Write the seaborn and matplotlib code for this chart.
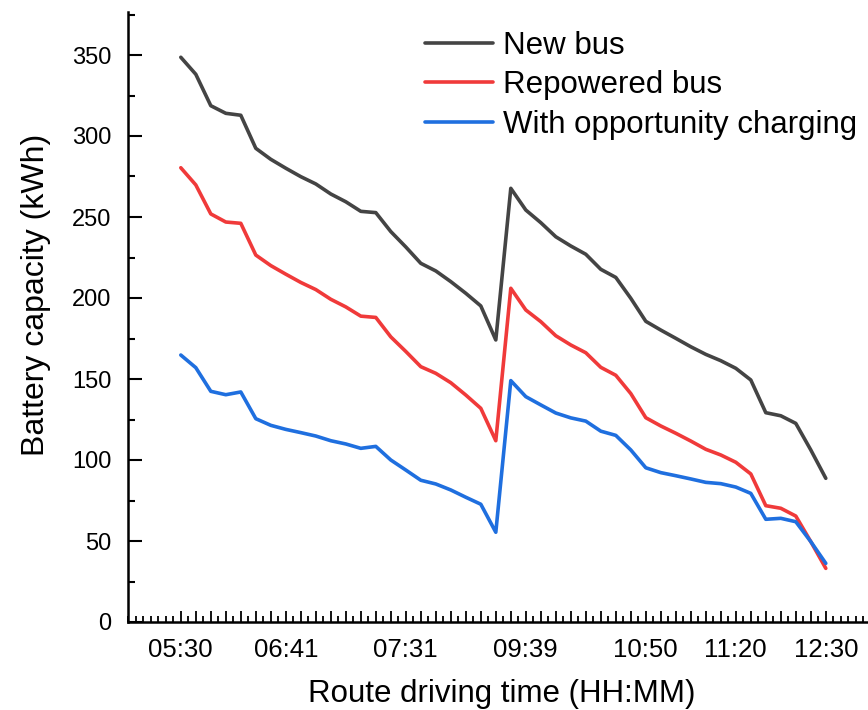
import numpy as np
import pandas as pd
import matplotlib
matplotlib.use("Agg")
import matplotlib.pyplot as plt
import seaborn as sns
from matplotlib.ticker import MultipleLocator

# Battery state along the route (kWh), one value per stop
new_bus = [348.6, 338.1, 318.7, 314.0, 312.8, 292.4, 285.6, 280.1, 274.9, 270.4,
           264.2, 259.4, 253.5, 252.7, 241.0, 231.5, 221.4, 216.7, 210.1, 202.9,
           195.1, 174.1, 267.7, 254.3, 246.5, 237.8, 232.1, 227.0, 217.7, 212.7,
           199.8, 185.6, 180.2, 175.1, 169.9, 165.2, 161.3, 156.6, 149.4, 129.2,
           127.3, 122.6, 106.2, 88.7]
repowered_bus = [280.4, 269.8, 251.9, 246.9, 246.1, 226.5, 220.0, 214.7, 209.6, 205.2,
                 199.2, 194.5, 188.8, 188.0, 176.0, 167.0, 157.6, 153.5, 147.7, 140.1,
                 131.9, 111.9, 206.0, 192.6, 185.4, 176.7, 171.0, 166.2, 157.2, 152.3,
                 141.0, 126.1, 121.0, 116.5, 111.7, 106.6, 103.1, 98.6, 91.4, 71.8,
                 70.2, 65.4, 49.6, 33.1]
opportunity = [164.8, 157.0, 142.4, 140.3, 142.0, 125.5, 121.4, 118.9, 116.9, 114.8,
               111.9, 109.9, 107.2, 108.4, 100.0, 93.8, 87.5, 85.2, 81.5, 77.0,
               72.7, 55.4, 149.0, 139.1, 134.0, 129.0, 126.0, 124.0, 117.8, 115.2,
               106.2, 95.2, 92.2, 90.3, 88.3, 86.2, 85.4, 83.3, 79.4, 63.4,
               64.0, 61.9, 49.6, 36.2]

series_names = ["New bus", "Repowered bus", "With opportunity charging"]
series_colors = ["#444444", "#f03a3a", "#1f6fdf"]

time_label_stops = [0, 7, 15, 23, 31, 37, 43]
time_labels = ["05:30", "06:41", "07:31", "09:39", "10:50", "11:20", "12:30"]

stops = np.arange(len(new_bus))
df = pd.concat([
    pd.DataFrame({"stop": stops, "kwh": vals, "series": name})
    for name, vals in zip(series_names, [new_bus, repowered_bus, opportunity])
], ignore_index=True)

sns.set_style("ticks")
plt.rcParams["font.family"] = ["Liberation Sans", "DejaVu Sans"]
plt.rcParams["text.color"] = "black"
plt.rcParams["axes.labelcolor"] = "black"
plt.rcParams["xtick.color"] = "black"
plt.rcParams["ytick.color"] = "black"

W, H = 868, 710
fig = plt.figure(figsize=(W / 100, H / 100), dpi=100)
left_px, bottom_px, top_px = 128.3, 622, 12
ax = fig.add_axes([left_px / W, (H - bottom_px) / H,
                   (W - left_px) / W, (bottom_px - top_px) / H])

sns.lineplot(data=df, x="stop", y="kwh", hue="series", hue_order=series_names,
             palette=series_colors, linewidth=2.6, ax=ax, legend=False)

ax.set_xlim(-3.5, -3.5 + (W - left_px) / 15.0)
ax.set_ylim(0, (bottom_px - top_px) / 1.62)

for s in ["top", "right"]:
    ax.spines[s].set_visible(False)
for s in ["left", "bottom"]:
    ax.spines[s].set_linewidth(1.8)
    ax.spines[s].set_color("black")

ax.xaxis.set_minor_locator(MultipleLocator(0.5))
ax.set_xticks(stops)
ax.set_xticklabels([""] * len(stops))
ax.yaxis.set_major_locator(MultipleLocator(50))
ax.yaxis.set_minor_locator(MultipleLocator(25))
ax.tick_params(axis="x", which="major", direction="in", length=8, width=1.3)
ax.tick_params(axis="x", which="minor", direction="in", length=4, width=1.3)
ax.tick_params(axis="y", which="major", direction="in", length=10, width=1.5,
               labelsize=17, pad=12)
ax.tick_params(axis="y", which="minor", direction="in", length=5, width=1.5)

# time-of-day labels under selected stops
for pos, lab in zip(time_label_stops, time_labels):
    ax.text(pos, -0.026, lab, transform=ax.get_xaxis_transform(),
            ha="center", va="top", fontsize=18.5)

ax.set_xlabel("Route driving time (HH:MM)", fontsize=22.5, labelpad=0)
ax.xaxis.set_label_coords(0.505, -0.093)
ax.set_ylabel("Battery capacity (kWh)", fontsize=23)
ax.yaxis.set_label_coords(-0.105, 0.536)

handles = [plt.Line2D([], [], color=c, linewidth=2.6) for c in series_colors]
fig.legend(handles, series_names, loc="upper left",
           bbox_to_anchor=(425 / W, 1 - 31 / H), frameon=False,
           fontsize=22.5, handlelength=2.18, handletextpad=0.32,
           labelspacing=0.30, borderaxespad=0, borderpad=0)

fig.savefig("out.png", dpi=100, facecolor="white")
